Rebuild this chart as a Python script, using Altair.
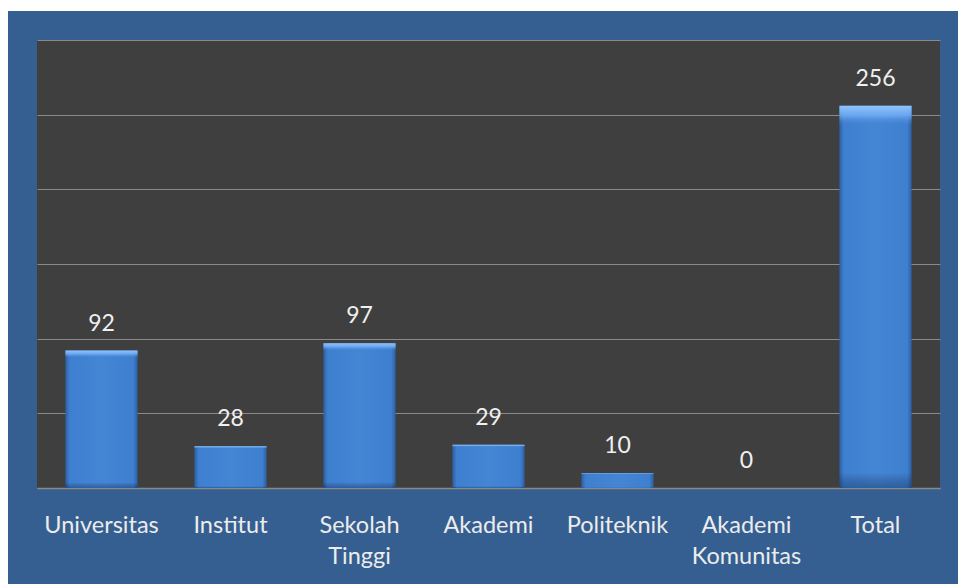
import altair as alt
import pandas as pd

categories = ["Universitas", "Institut", "Sekolah Tinggi", "Akademi", "Politeknik", "Akademi Komunitas", "Total"]
values = [92, 28, 97, 29, 10, 0, 256]

df = pd.DataFrame({"cat": categories, "val": values})

W, H = 903, 448
FONT = "Lato"

xenc = alt.X("cat:N", sort=categories, title=None,
             scale=alt.Scale(paddingInner=0.44, paddingOuter=0.22),
             axis=alt.Axis(labelAngle=0, labelExpr="split(datum.label, ' ')",
                           labelFont=FONT, labelFontSize=23.5, labelColor="#ececec",
                           labelPadding=25, labelLineHeight=31,
                           ticks=False, domainColor="#8a8a8a", domainWidth=1.5))
yenc = alt.Y("val:Q", title=None,
             scale=alt.Scale(domain=[0, 300], nice=False),
             axis=alt.Axis(values=[0, 50, 100, 150, 200, 250, 300], labels=False, ticks=False,
                           domain=False, gridColor="#8a8a8a", gridWidth=1))

base = alt.Chart(df)

side_grad = alt.Gradient(
    gradient="linear", x1=0, x2=1, y1=0, y2=0,
    stops=[alt.GradientStop(color="#2c5f9f", offset=0),
           alt.GradientStop(color="#3f7fcf", offset=0.06),
           alt.GradientStop(color="#4485d4", offset=0.5),
           alt.GradientStop(color="#3f7fcf", offset=0.94),
           alt.GradientStop(color="#2c5f9f", offset=1)])

top_grad = alt.Gradient(
    gradient="linear", x1=0, x2=0, y1=0, y2=1,
    stops=[alt.GradientStop(color="rgba(150,200,255,0.95)", offset=0),
           alt.GradientStop(color="rgba(120,180,250,0.75)", offset=0.025),
           alt.GradientStop(color="rgba(80,140,220,0.0)", offset=0.05),
           alt.GradientStop(color="rgba(0,0,0,0)", offset=0.96),
           alt.GradientStop(color="rgba(10,30,70,0.35)", offset=1)])

bars = base.mark_bar(color=side_grad, cornerRadius=0).encode(x=xenc, y=yenc)
bevel = base.mark_bar(color=top_grad).encode(x=alt.X("cat:N", sort=categories), y="val:Q")
labels = base.mark_text(baseline="alphabetic", dy=-20, font=FONT, fontSize=23, color="#f0f0f0").encode(
    x=alt.X("cat:N", sort=categories), y="val:Q", text="val:Q")

strip_df = pd.DataFrame({"k": [0]})
top_strip = alt.Chart(strip_df).mark_rect(color="white", clip=False).encode(
    x=alt.value(-37), x2=alt.value(W + 18), y=alt.value(-40), y2=alt.value(-29))
left_strip = alt.Chart(strip_df).mark_rect(color="white", clip=False).encode(
    x=alt.value(-37), x2=alt.value(-29), y=alt.value(-40), y2=alt.value(H + 96))

chart = alt.layer(bars, bevel, labels, top_strip, left_strip).properties(
    width=W, height=H,
    padding={"left": 37, "top": 40, "right": 18, "bottom": 96},
    autosize=alt.AutoSizeParams(type="none"),
    background="#365f91",
).configure_view(fill="#3f3f3f", stroke=None)

chart.save("out.html", embed_options={"renderer": "svg", "actions": False})
